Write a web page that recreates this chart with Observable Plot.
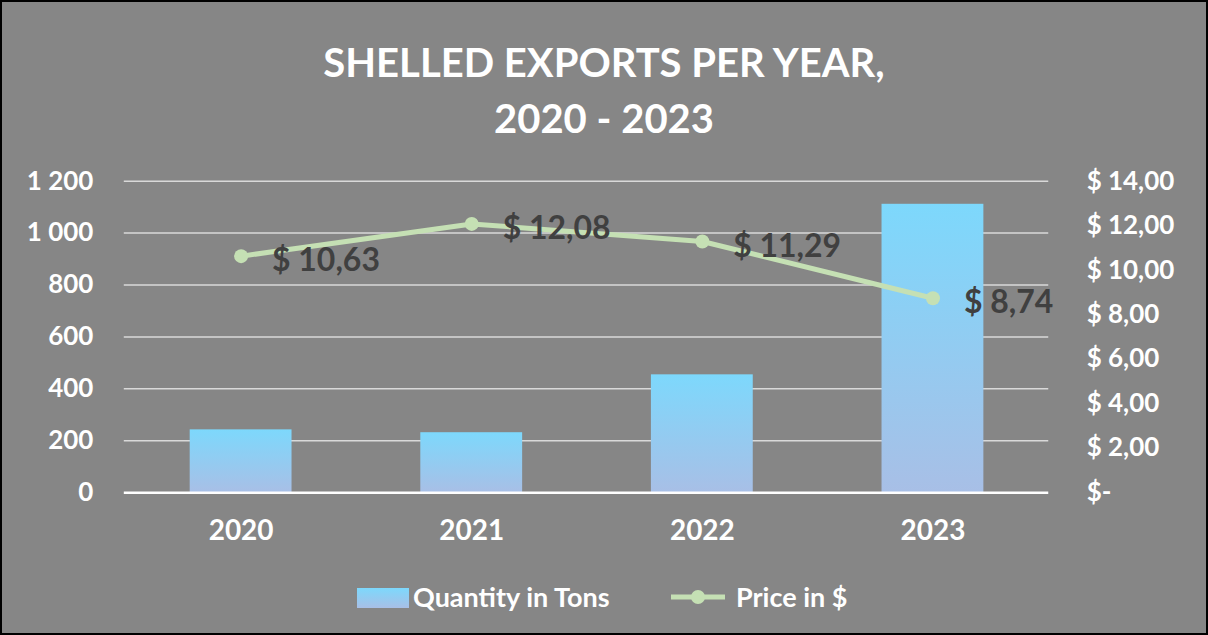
<!DOCTYPE html>
<html><head><meta charset="utf-8">
<script src="https://cdn.jsdelivr.net/npm/d3@7"></script>
<script src="https://cdn.jsdelivr.net/npm/@observablehq/plot@0.6"></script>
<style>
body{margin:0;}
#wrap{position:relative;width:1208px;height:635px;background:#868686;box-sizing:border-box;border:2px solid #000;overflow:hidden;font-family:Lato,sans-serif;}
#title{position:absolute;left:-2px;width:1208px;top:32px;text-align:center;color:#fff;font-weight:700;font-size:40px;line-height:56px;}
#chart{position:absolute;left:-2px;top:-2px;}
.lg{position:absolute;color:#fff;font-weight:700;font-size:27px;line-height:30px;top:580px;}
.sw{position:absolute;left:355px;top:586px;width:52px;height:20px;background:linear-gradient(#7dd8fc,#a8bfe6);}
</style></head>
<body><div id="wrap">
<div id="title">SHELLED EXPORTS PER YEAR,<br>2020 - 2023</div>
<div id="chart"></div>
<div class="sw"></div><span class="lg" style="left:411px">Quantity in Tons</span>
<svg width="60" height="20" style="position:absolute;left:667px;top:585px"><line x1="2" y1="10" x2="56" y2="10" stroke="#c5e0b4" stroke-width="5"/><circle cx="29" cy="10" r="7" fill="#c5e0b4"/></svg>
<span class="lg" style="left:734px">Price in $</span>
</div>
<script>
const years = ["2020", "2021", "2022", "2023"];
const quantity = [242, 231, 454, 1111];
const price = [10.63, 12.08, 11.29, 8.74];
const leftTicks = [0, 200, 400, 600, 800, 1000, 1200];
const rightTicks = [0, 2, 4, 6, 8, 10, 12, 14];

const qMax = 1200, pMax = 14;
const toQ = p => p * qMax / pMax;
const data = years.map((y, i) => ({year: y, quantity: quantity[i], price: price[i]}));
const fmtQ = d3.formatLocale({thousands: " ", grouping: [3], decimal: ","}).format(",");
const fmtP = p => p === 0 ? "$-" : "$ " + p.toFixed(2).replace(".", ",");

const defs = () => {
  const d = d3.create("svg:defs");
  const g = d.append("linearGradient").attr("id", "barGrad").attr("x1", 0).attr("y1", 0).attr("x2", 0).attr("y2", 1);
  g.append("stop").attr("offset", "0%").attr("stop-color", "#7dd8fc");
  g.append("stop").attr("offset", "100%").attr("stop-color", "#a8bfe6");
  return d.node();
};

const chart = Plot.plot({
  width: 1208, height: 635,
  marginTop: 181, marginBottom: 142, marginLeft: 124, marginRight: 158,
  style: {background: "transparent", fontFamily: "Lato, sans-serif", fontWeight: "bold", color: "#fff", fontSize: "25px"},
  x: {domain: years, paddingInner: 0.56, paddingOuter: 0.28, label: null},
  y: {domain: [0, qMax], label: null},
  marks: [
    defs,
    Plot.ruleY(leftTicks.filter(t => t > 0), {stroke: "#d9d9d9", strokeWidth: 1.5}),
    Plot.barY(data, {x: "year", y: "quantity", fill: "url(#barGrad)"}),
    Plot.ruleY([0], {stroke: "#fff", strokeWidth: 2.5}),
    Plot.line(data, {x: "year", y: d => toQ(d.price), stroke: "#c5e0b4", strokeWidth: 5}),
    Plot.dot(data, {x: "year", y: d => toQ(d.price), r: 7, fill: "#c5e0b4"}),
    Plot.text(data, {x: "year", y: d => toQ(d.price), text: d => fmtP(d.price), textAnchor: "start", dx: 31, dy: 5, fontSize: 32, fontWeight: "bold", fill: "#404040"}),
    Plot.axisY({anchor: "left", ticks: leftTicks, tickFormat: fmtQ, tickSize: 0, tickPadding: 31, fontSize: 26, label: null}),
    Plot.axisY({anchor: "right", ticks: rightTicks.map(toQ), tickFormat: v => fmtP(Math.round(v * pMax / qMax)), tickSize: 0, tickPadding: 38, fontSize: 26, label: null}),
    Plot.axisX({tickSize: 0, tickPadding: 28, fontSize: 28, label: null})
  ]
});
document.getElementById("chart").appendChild(chart);
</script>
</body></html>
